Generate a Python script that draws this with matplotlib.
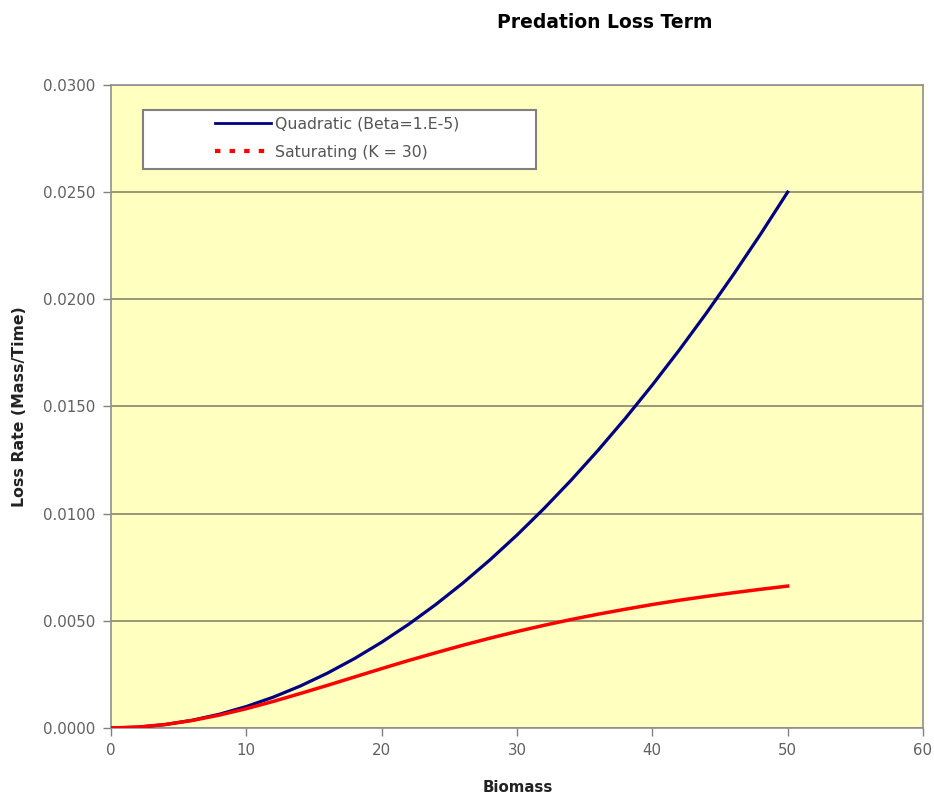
import matplotlib.pyplot as plt
from matplotlib.lines import Line2D
from matplotlib.patches import Rectangle

# Biomass values and loss rates
biomass = [0, 2, 4, 6, 8, 10, 12, 14, 16, 18, 20, 22, 24, 26, 28, 30,
           32, 34, 36, 38, 40, 42, 44, 46, 48, 50]
quadratic = [0.0, 0.00004, 0.00016, 0.00036, 0.00064, 0.00100, 0.00144,
             0.00196, 0.00256, 0.00324, 0.00400, 0.00484, 0.00576, 0.00676,
             0.00784, 0.00900, 0.01024, 0.01156, 0.01296, 0.01444, 0.01600,
             0.01764, 0.01936, 0.02116, 0.02304, 0.02500]
saturating = [0.0, 0.00004, 0.00016, 0.00035, 0.00060, 0.00090, 0.00124,
              0.00161, 0.00199, 0.00238, 0.00277, 0.00315, 0.00351, 0.00386,
              0.00419, 0.00450, 0.00479, 0.00506, 0.00531, 0.00554, 0.00576,
              0.00596, 0.00614, 0.00631, 0.00647, 0.00662]

xticks = [0, 10, 20, 30, 40, 50, 60]
yticks = [0.0, 0.005, 0.010, 0.015, 0.020, 0.025, 0.030]

fig = plt.figure(figsize=(9.34, 7.97), dpi=100)
ax = fig.add_axes([0.1188, 0.0866, 0.8694, 0.8068])
ax.set_facecolor('#FFFFC0')

ax.plot(biomass, quadratic, color='#000080', lw=2.3, zorder=3)
ax.plot(biomass, saturating, color='#FF0000', lw=2.5, zorder=4)

ax.set_xlim(0, 60)
ax.set_ylim(0, 0.03)
ax.set_xticks(xticks)
ax.set_yticks(yticks)
ax.set_yticklabels([f'{v:.4f}' for v in yticks])
ax.tick_params(direction='out', length=6, width=1, color='#808080',
               labelsize=10.8, labelcolor='#606060', pad=5)
ax.yaxis.grid(True, color='#7c7c66', lw=1.1)
ax.set_axisbelow(True)
for s in ax.spines.values():
    s.set_color('#909090')
    s.set_linewidth(1.2)

# legend box
ax.add_patch(Rectangle((0.0394, 0.869), 0.4836, 0.092, transform=ax.transAxes,
                       facecolor='white', edgecolor='#808080', lw=1.5, zorder=5))
handles = [Line2D([], [], color='#000080', lw=2),
           Line2D([], [], color='#FF0000', lw=3, ls=(0, (1.3, 2.2)))]
leg = ax.legend(handles, ['Quadratic (Beta=1.E-5)', 'Saturating (K = 30)'],
                loc='upper left', bbox_to_anchor=(0.128, 0.951), frameon=False,
                borderpad=0, borderaxespad=0, handlelength=3.6,
                handletextpad=0.2, labelspacing=0.85, fontsize=11.3)
leg.set_zorder(6)
for t in leg.get_texts():
    t.set_color('#555555')

fig.text(0.647, 0.972, 'Predation Loss Term', ha='center', va='center',
         fontsize=13.5, fontweight='bold')
fig.text(0.554, 0.012, 'Biomass', ha='center', va='center',
         fontsize=10.8, fontweight='bold', color='#222222')
fig.text(0.021, 0.49, 'Loss Rate (Mass/Time)', ha='center', va='center',
         rotation=90, fontsize=11.3, fontweight='bold', color='#222222')

fig.savefig('out.png', dpi=100)
